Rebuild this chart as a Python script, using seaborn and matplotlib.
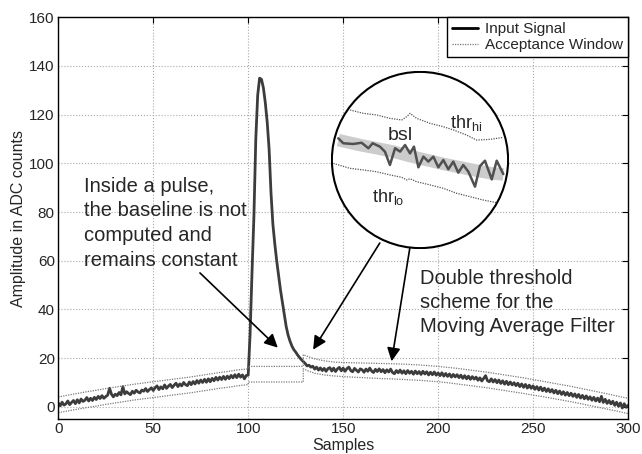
import matplotlib
matplotlib.use("Agg")
import matplotlib.pyplot as plt
from matplotlib.patches import Circle
import seaborn as sns

# input signal, one value per sample (ADC counts)
samples = list(range(301))
signal = [
    1.6, 0.4, 1.9, 0.7, 1.2, 2.4, 0.9, 1.8, 2.6, 1.3,
    2.9, 1.6, 3.2, 2.2, 2.7, 3.8, 2.4, 3.5, 2.6, 3.9,
    3.0, 4.3, 3.4, 4.6, 3.5, 4.2, 4.8, 7.6, 5.2, 4.1,
    5.2, 4.6, 5.9, 4.9, 8.3, 5.3, 6.2, 5.5, 5.0, 6.4,
    5.6, 6.8, 6.1, 5.7, 6.9, 6.4, 7.5, 6.3, 7.1, 7.8,
    6.7, 7.9, 8.6, 7.1, 8.2, 7.4, 9.0, 7.6, 8.5, 9.2,
    7.9, 8.9, 9.7, 8.3, 9.4, 8.6, 10.0, 9.1, 8.7, 10.2,
    9.1, 10.4, 9.4, 10.8, 9.7, 11.0, 10.0, 11.3, 10.1, 11.5,
    10.3, 11.7, 10.7, 12.1, 11.0, 12.2, 11.2, 12.5, 11.3, 12.6,
    11.6, 12.9, 11.9, 13.2, 12.0, 13.4, 12.2, 13.1, 11.5, 12.9,
    13.0, 30.0, 55.0, 78.0, 110.0, 128.0, 135.0, 134.5, 131.0, 125.0,
    117.0, 106.0, 88.0, 75.0, 67.0, 60.0, 54.0, 48.0, 43.0, 38.0,
    33.0, 29.5, 27.0, 25.0, 23.5, 22.5, 21.3, 20.3, 19.4, 18.6,
    17.8, 16.8, 17.1, 16.3, 16.7, 15.5, 16.3, 15.1, 16.0, 14.9,
    15.8, 14.6, 15.7, 16.1, 14.7, 15.9, 14.5, 15.6, 16.2, 14.8,
    15.9, 14.6, 15.7, 16.3, 14.9, 14.4, 15.8, 15.0, 14.3, 15.6,
    15.2, 14.2, 15.5, 14.6, 15.9, 14.7, 14.1, 15.4, 14.5, 15.6,
    14.4, 15.3, 14.0, 15.2, 14.3, 15.5, 14.1, 13.6, 14.9, 14.0,
    15.1, 13.8, 14.8, 13.6, 14.9, 13.8, 14.6, 13.4, 14.7, 13.6,
    14.5, 13.3, 14.6, 13.5, 14.4, 13.1, 14.2, 13.2, 14.3, 13.0,
    13.9, 12.8, 14.0, 12.6, 13.7, 12.5, 13.5, 12.2, 13.3, 12.3,
    13.2, 12.0, 13.0, 11.7, 12.8, 11.5, 12.6, 11.3, 12.4, 11.4,
    12.2, 10.9, 11.9, 10.6, 11.7, 12.8, 10.7, 10.3, 11.5, 10.2,
    11.2, 9.9, 11.0, 9.6, 10.7, 9.3, 10.5, 9.1, 10.2, 9.0,
    9.9, 8.7, 9.7, 8.3, 9.4, 8.0, 9.2, 7.7, 8.9, 7.6,
    8.6, 7.2, 8.3, 6.9, 8.1, 6.6, 7.7, 6.3, 7.4, 6.1,
    7.1, 5.7, 6.8, 5.4, 6.5, 5.1, 6.2, 4.8, 5.9, 4.6,
    5.6, 4.3, 5.3, 3.9, 5.1, 3.6, 4.7, 3.3, 4.5, 3.1,
    4.1, 2.7, 3.9, 2.4, 3.6, 2.1, 4.3, 1.8, 3.1, 1.4,
    2.6, 1.2, 2.3, 0.6, 1.9, 0.2, 1.6, -0.5, 1.3, -0.2,
    0.6,
]

# acceptance window (held constant inside the pulse)
win_x = [0, 5, 10, 15, 20, 25, 30, 35, 40, 45, 50, 55, 60, 65, 70, 75, 80, 85, 90, 95, 100,
         100, 129, 129, 132, 135,
         140, 145, 150, 155, 160, 165, 170, 175, 180, 185, 190, 195, 200, 205, 210, 215,
         220, 225, 230, 235, 240, 245, 250, 255, 260, 265, 270, 275, 280, 285, 290, 295, 300]
win_hi = [4.0, 4.8, 5.5, 6.2, 6.8, 7.5, 8.1, 8.7, 9.3, 9.8, 10.3, 10.8, 11.3, 11.8, 12.3,
          12.9, 13.5, 14.1, 14.6, 15.2, 15.6,
          16.6, 16.6, 21.4, 20.5, 19.7,
          18.9, 18.4, 18.2, 18.1, 18.0, 17.9, 17.8, 17.7, 17.6, 17.4, 17.2, 16.9, 16.6, 16.2,
          15.8, 15.3, 14.8, 14.3, 13.7, 13.1, 12.5, 11.9, 11.2, 10.5, 9.8, 9.1, 8.4, 7.6,
          6.8, 6.0, 5.2, 4.3, 3.5]
win_lo = [-2.4, -1.7, -1.0, -0.3, 0.3, 1.0, 1.6, 2.2, 2.8, 3.3, 3.8, 4.3, 4.8, 5.3, 5.8,
          6.4, 7.0, 7.6, 8.1, 8.7, 9.1,
          10.2, 10.2, 15.6, 14.6, 13.8,
          13.1, 12.7, 12.4, 12.2, 12.0, 11.8, 11.6, 11.5, 11.3, 11.1, 10.9, 10.6, 10.3, 9.9,
          9.4, 8.9, 8.4, 7.9, 7.3, 6.7, 6.1, 5.5, 4.8, 4.2, 3.5, 2.8, 2.1, 1.3, 0.5,
          -0.3, -1.1, -1.9, -2.8]

# magnified view inside the circle (arbitrary 0-100 units)
zoom_hi_x = [10.7, 18.2, 25.7, 33.1, 39.7, 42.5, 44.4, 48.1, 55.6, 63.1, 68.7, 76.2, 81.8, 89.3, 96.8]
zoom_hi_y = [78.1, 76.2, 75.3, 73.4, 72.5, 74.3, 76.2, 73.4, 70.6, 68.7, 66.9, 64.0, 61.2, 61.6, 62.7]
zoom_lo_x = [1.3, 10.7, 18.2, 25.7, 33.1, 39.7, 42.5, 44.4, 48.1, 55.6, 63.1, 70.6, 78.1, 85.6, 93.1]
zoom_lo_y = [48.1, 45.3, 44.4, 43.4, 41.6, 40.3, 38.8, 39.5, 37.8, 36.0, 34.1, 31.3, 29.4, 27.5, 26.0]
zoom_bsl_x = [4.1, 16.3, 25.7, 35.0, 44.4, 53.7, 63.1, 72.5, 81.8, 90.3, 96.8]
zoom_bsl_y = [61.2, 58.4, 56.6, 54.7, 52.2, 50.0, 47.8, 45.9, 44.0, 42.5, 41.9]
zoom_sig_x = [4.1, 6.9, 12.5, 17.2, 21.0, 23.4, 27.5, 30.3, 33.1, 36.0, 38.8, 41.6, 44.4, 46.6,
              49.1, 51.9, 54.7, 57.5, 60.3, 63.1, 65.9, 68.7, 71.5, 74.3, 77.2, 80.9, 83.7,
              86.5, 90.3, 93.1, 96.8]
zoom_sig_y = [62.2, 59.4, 59.0, 59.7, 56.6, 59.4, 57.5, 54.7, 47.2, 56.6, 54.7, 58.4, 53.7, 57.5,
              45.9, 51.9, 49.1, 51.9, 45.9, 50.0, 44.8, 49.1, 42.9, 47.2, 43.4, 35.0, 46.6,
              49.6, 39.1, 49.6, 42.1]

sns.set_theme(style="white")
plt.rcParams['font.family'] = ['Liberation Sans', 'DejaVu Sans']

fig = plt.figure(figsize=(6.42, 4.54), dpi=100)
ax = fig.add_axes([0.0908, 0.0771, 0.8874, 0.8848])

sig_col = '#3c3c3c'
win_col = '#7a7a7a'
dots = (0, (1, 1))

sns.lineplot(x=samples, y=signal, ax=ax, color=sig_col, lw=2, sort=False, estimator=None)
sns.lineplot(x=win_x, y=win_hi, ax=ax, color=win_col, lw=0.9, ls=dots, sort=False, estimator=None)
sns.lineplot(x=win_x, y=win_lo, ax=ax, color=win_col, lw=0.9, ls=dots, sort=False, estimator=None)

ax.set_xlim(0, 300)
ax.set_ylim(-5, 160)
ax.set_xticks(range(0, 301, 50))
ax.set_yticks(range(0, 161, 20))
ax.grid(True, ls=':', color='#a8a8a8', lw=0.8)
ax.tick_params(direction='in', top=True, right=True, length=4, width=0.8,
               labelsize=11, color='black', pad=2.5)
for sp in ax.spines.values():
    sp.set_color('black')
    sp.set_linewidth(1)
ax.set_xlabel('Samples', fontsize=11.5)
ax.set_ylabel('Amplitude in ADC counts', fontsize=11.5)
ax.xaxis.set_label_coords(0.5, -0.047)
ax.yaxis.set_label_coords(-0.057, 0.5)

h_sig = plt.Line2D([], [], color='black', lw=2)
h_win = plt.Line2D([], [], color=win_col, lw=0.9, ls=dots)
leg = ax.legend([h_sig, h_win], ['Input Signal', 'Acceptance Window'], loc='upper right',
                borderaxespad=0, fancybox=False, framealpha=1, edgecolor='black',
                fontsize=11, handlelength=1.7, borderpad=0.3, labelspacing=0.15,
                handletextpad=0.5)
leg.get_frame().set_linewidth(1)

ax.text(13.5, 94.5, "Inside a pulse,\nthe baseline is not\ncomputed and\nremains constant",
        fontsize=14.5, ha='left', va='top', linespacing=1.38)
ax.text(190.7, 56.5, "Double threshold\nscheme for the\nMoving Average Filter",
        fontsize=14.5, ha='left', va='top', linespacing=1.32)

arrow = dict(arrowstyle='-|>', color='black', lw=1.2, mutation_scale=20, shrinkA=0, shrinkB=0)
ax.annotate('', xy=(115.6, 24.3), xytext=(74.6, 55), arrowprops=arrow)
ax.annotate('', xy=(134.2, 23.5), xytext=(169.3, 67.3), arrowprops=arrow)
ax.annotate('', xy=(175.5, 18.7), xytext=(185.1, 65.2), arrowprops=arrow)

# circular magnifier
axz = fig.add_axes([331 / 642, 1 - 249 / 454, 178 / 642, 178 / 454])
axz.set_xlim(0, 100)
axz.set_ylim(0, 100)
axz.axis('off')
ring = Circle((50, 50), 49.5, facecolor='white', edgecolor='black', lw=1.5, zorder=1)
axz.add_patch(ring)
clip = Circle((50, 50), 49.5, transform=axz.transData)
for xs, ys, kw in [
    (zoom_bsl_x, zoom_bsl_y, dict(color='#cccccc', lw=9, solid_capstyle='butt')),
    (zoom_sig_x, zoom_sig_y, dict(color='#505050', lw=1.8)),
    (zoom_hi_x, zoom_hi_y, dict(color='#555555', lw=0.9, ls=dots)),
    (zoom_lo_x, zoom_lo_y, dict(color='#555555', lw=0.9, ls=dots)),
]:
    line, = axz.plot(xs, ys, zorder=2, **kw)
    line.set_clip_path(clip)
axz.text(38.8, 63.7, 'bsl', fontsize=14, ha='center', va='center', zorder=3)
axz.text(66.9, 70.6, r'thr$_\mathregular{hi}$', fontsize=13, ha='left', va='center', zorder=3)
axz.text(22.8, 29.4, r'thr$_\mathregular{lo}$', fontsize=13, ha='left', va='center', zorder=3)

fig.savefig('out.png', dpi=100)
